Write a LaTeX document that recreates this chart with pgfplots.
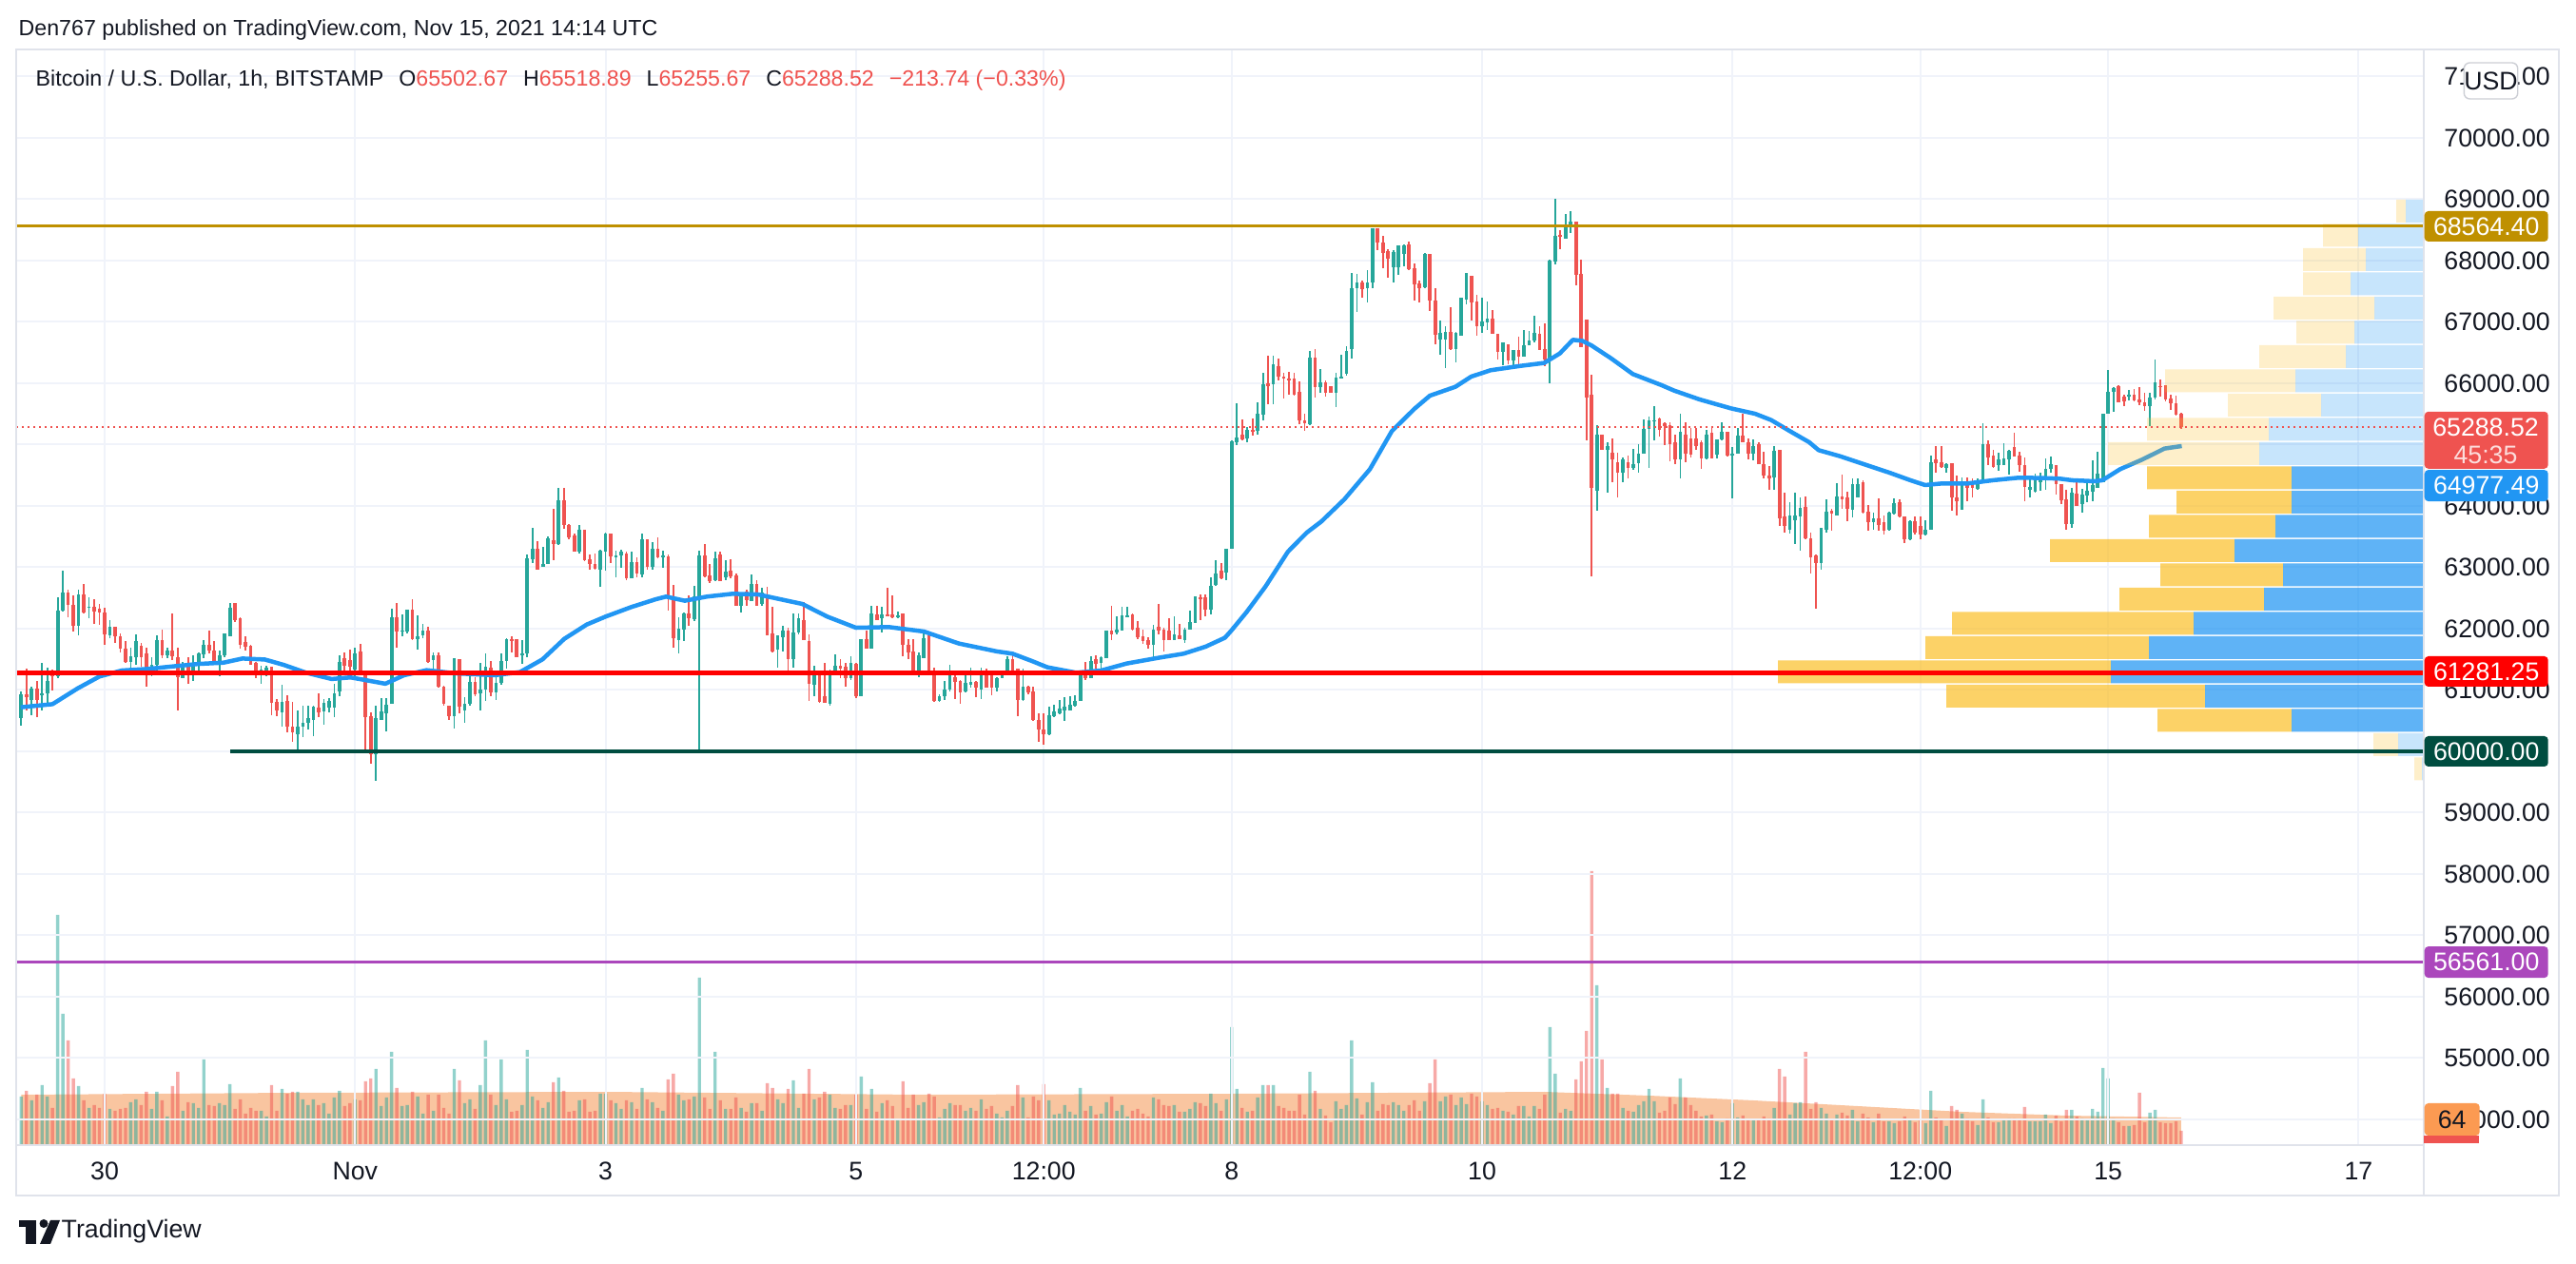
\documentclass[border=0pt]{standalone}
\usepackage{fontspec}
\setmainfont{Liberation Sans}
\usepackage{pgfplots}
\pgfplotsset{compat=1.18}
\usepackage{pgfplotstable}

\definecolor{upc}{HTML}{26A69A}
\definecolor{dnc}{HTML}{EF5350}
\definecolor{mac}{HTML}{2196F3}
\definecolor{gridc}{HTML}{F0F3FA}
\definecolor{borderc}{HTML}{E0E3EB}
\definecolor{txt}{HTML}{131722}
\definecolor{goldc}{HTML}{BF9000}
\definecolor{supc}{HTML}{004D40}
\definecolor{purc}{HTML}{AB47BC}
\definecolor{resc}{HTML}{FF0000}
\definecolor{vpy}{HTML}{FBC02D}
\definecolor{volma}{HTML}{F9C5A0}
\definecolor{volbox}{HTML}{FB9A52}

% hourly candles, t = hours since Oct 29 00:00 UTC, v = volume (px of the volume pane)
\pgfplotstableread{
t o h l c v
8 60538 60984 60420 60933 51
9 60933 61348 60666 60882 57
10 60846 61061 60589 61025 47
11 61025 61153 60564 60846 53
12 60912 61446 60666 60948 63
13 60948 61359 60795 61153 51
14 61282 61333 61000 61220 39
15 61230 62512 61189 62292 242
16 62292 62948 62282 62589 138
17 62589 62641 62194 62384 110
18 62384 62538 61959 62051 70
19 62051 62641 61897 62553 62
20 62553 62728 62256 62266 47
21 62343 62512 62174 62359 39
22 62359 62477 62077 62282 42
23 62323 62400 62061 62266 39
24 62266 62348 61743 61907 54
25 61897 62143 61846 62025 38
26 62025 62035 61769 61871 36
27 61882 61923 61615 61677 38
28 61682 61795 61446 61461 39
29 61461 61692 61256 61548 45
30 61538 61907 61410 61795 48
31 61718 61769 61384 61538 42
32 61600 61692 61061 61282 56
33 61282 61538 61230 61410 38
34 61410 61897 61256 61820 56
35 61820 61984 61513 61564 47
36 61564 61692 61513 61641 30
37 61641 62246 61487 61554 62
38 61538 61692 60666 61205 77
39 61189 61461 61189 61410 36
40 61384 61538 61102 61256 45
41 61256 61564 61143 61425 44
42 61425 61615 61282 61590 39
43 61590 61820 61513 61743 90
44 61743 61974 61590 61651 42
45 61651 61795 61436 61446 41
46 61446 61641 61220 61564 44
47 61564 61923 61538 61923 42
48 61882 62420 61882 62348 64
49 62420 62420 62102 62143 38
50 62179 62194 61682 61743 48
51 61784 61871 61641 61707 33
52 61718 61743 61410 61410 39
53 61436 61461 61189 61266 36
54 61266 61394 61102 61333 36
55 61282 61394 61230 61359 30
56 61384 61384 60589 60795 63
57 60810 60846 60574 60666 36
58 60641 61087 60400 60810 59
59 60820 60923 60307 60400 54
60 60400 60810 60154 60318 56
61 60272 60666 60036 60410 56
62 60400 60744 60231 60472 48
63 60461 60744 60359 60538 42
64 60513 60744 60246 60728 48
65 60718 60948 60564 60641 42
66 60656 60846 60436 60784 44
67 60708 60872 60641 60820 33
68 60718 61102 60564 60948 50
69 60974 61564 60897 61461 57
70 61513 61615 61256 61394 41
71 61487 61666 61256 61384 44
72 61333 61692 61179 61600 48
73 61631 61754 61282 61323 47
74 61323 61323 60026 60564 67
75 60574 60641 59795 59959 70
76 59949 60744 59513 60538 80
77 60513 60872 60513 60656 41
78 60615 60872 60333 60754 50
79 60769 62333 60769 62194 98
80 62194 62420 61692 61948 60
81 61959 62231 61871 61974 41
82 61959 62307 61923 62307 42
83 62307 62477 61820 61836 56
84 61836 62215 61666 61871 51
85 61897 62077 61846 61974 33
86 61974 62025 61436 61461 53
87 61487 61615 61333 61564 36
88 61564 61615 61036 61051 53
89 61051 61077 60744 60779 39
90 60744 60744 60513 60574 33
91 60568 61524 60372 61514 80
92 61498 61498 60620 60723 68
93 60672 60878 60465 60775 44
94 60775 61240 60749 61137 48
95 61137 61215 60904 60930 38
96 60940 61447 60672 61008 63
97 61008 61602 60816 61385 110
98 61370 61473 60894 60956 53
99 60956 61240 60837 61111 42
100 61111 61602 61085 61473 90
101 61473 61850 61354 61834 48
102 61824 61871 61612 61798 35
103 61824 61834 61540 61540 36
104 61576 61819 61421 61602 42
105 61602 63214 61540 63152 100
106 63126 63643 63075 63297 51
107 63297 63421 62956 62956 47
108 63003 63333 63003 63049 39
109 63049 63504 63049 63473 45
110 63437 63953 63111 63385 66
111 63385 64289 63359 64093 71
112 64093 64289 63628 63695 57
113 63695 63705 63452 63488 35
114 63514 63550 63256 63256 36
115 63256 63695 63230 63607 47
116 63607 63617 63101 63111 48
117 63126 63204 62956 63049 35
118 63059 63230 62956 62971 36
119 62956 63281 62677 63266 54
120 63256 63566 62946 63555 54
121 63555 63555 63075 63178 47
122 63163 63266 62842 63194 44
123 63194 63292 62987 63256 38
124 63230 63256 62791 62816 47
125 62816 63256 62816 63085 45
126 63085 63163 62842 62894 38
127 62884 63555 62832 63452 60
128 63452 63452 62956 63013 48
129 63003 63411 62956 63307 45
130 63307 63488 63152 63163 39
131 63163 63266 62987 63188 36
132 63178 63204 62300 62506 69
133 62532 62713 61695 61850 75
134 61809 62181 61592 62005 53
135 61990 62263 61798 62248 47
136 62248 62543 62041 62170 48
137 62160 62698 62129 62532 51
138 62506 63271 60026 63194 176
139 63194 63385 62842 62853 50
140 62868 63049 62749 62780 38
141 62790 63256 62780 63152 98
142 63204 63256 62780 62780 47
143 62842 63111 62790 62935 38
144 62946 63126 62816 62853 38
145 62868 62894 62367 62377 50
146 62367 62594 62258 62584 39
147 62610 62636 62377 62470 35
148 62455 62884 62455 62728 44
149 62728 62790 62367 62367 44
150 62403 62661 62377 62584 36
151 62532 62687 61886 61886 65
152 61922 62351 61618 61628 60
153 61654 61886 61369 61886 48
154 61860 62041 61628 61964 44
155 61964 62015 61318 61498 59
156 61498 62248 61369 61938 68
157 61938 62248 61912 62170 39
158 62145 62429 61809 61819 54
159 61798 61912 60827 61095 80
160 61085 61395 60904 61240 48
161 61292 61318 60785 60801 50
162 60904 61437 60785 60785 56
163 60775 61333 60744 61292 53
164 61250 61576 61250 61395 39
165 61395 61498 61189 61344 38
166 61385 61447 61059 61189 42
167 61189 61550 61163 61447 42
168 61421 61447 60868 60904 53
169 60894 61834 60894 61834 72
170 61834 61974 61679 61679 38
171 61679 62377 61679 62248 59
172 62238 62377 62134 62134 35
173 62171 62351 61938 62238 44
174 62238 62662 62196 62197 47
175 62238 62543 62171 62181 41
176 62197 62274 62171 62223 27
177 62248 62248 61551 61732 67
178 61732 61835 61499 61613 39
179 61628 61835 61241 61266 53
180 61266 61613 61215 61561 42
181 61525 61975 61525 61851 45
182 61887 61887 61266 61266 54
183 61292 61370 60801 60827 51
184 60827 60931 60801 60905 29
185 60905 61148 60838 61008 38
186 61008 61406 60982 61241 44
187 61215 61241 60853 61138 42
188 61148 61163 60776 60956 42
189 60982 61241 60956 61112 36
190 61086 61370 61034 61138 39
191 61138 61148 60879 61034 36
192 61008 61370 60853 61241 48
193 61266 61344 61034 61034 38
194 61241 61292 60920 61034 41
195 61034 61215 60982 61189 33
196 61189 61318 61189 61292 29
197 61282 61551 61266 61499 36
198 61499 61613 61241 61241 41
199 61344 61344 60569 60838 63
200 60838 61344 60817 61060 50
201 61060 61075 60931 60956 29
202 60972 61060 60491 60517 51
203 60517 60621 60155 60362 47
204 60362 60621 60114 60285 64
205 60285 60724 60259 60595 47
206 60569 60760 60559 60646 32
207 60621 60838 60610 60698 33
208 60672 60889 60491 60724 42
209 60672 60905 60662 60760 35
210 60750 60920 60734 60817 32
211 60817 61251 60817 61241 60
212 61241 61457 61163 61189 36
213 61199 61551 61199 61473 41
214 61509 61561 61354 61421 32
215 61437 61551 61318 61540 33
216 61525 61975 61525 61975 45
217 61975 62367 61809 61902 51
218 61939 62197 61913 61990 36
219 61975 62352 61964 62223 42
220 62197 62352 62181 62223 30
221 62233 62248 61975 61990 36
222 62016 62130 61835 61861 38
223 61871 61990 61758 61794 33
224 61809 61861 61680 61732 30
225 61732 62068 61525 61990 50
226 62026 62403 61913 61964 48
227 61990 62016 61628 61809 42
228 61964 62171 61809 61809 41
229 61820 62197 61809 61902 42
230 61887 62078 61835 61835 35
231 61809 62016 61768 61990 35
232 61990 62300 61990 62109 38
233 62093 62533 62093 62522 45
234 62507 62559 62145 62491 44
235 62507 62559 62197 62316 41
236 62316 62843 62233 62698 54
237 62714 63112 62698 62905 44
238 62946 63075 62801 62817 36
239 62920 63298 62791 63298 48
240 63298 65065 63298 65055 124
241 65040 65675 64987 65117 59
242 65158 65416 65075 65091 39
243 65106 65282 65039 65246 35
244 65246 65427 65142 65210 36
245 65230 65685 65158 65504 50
246 65489 66176 65401 65985 63
247 66000 66450 65659 65954 63
248 65985 66450 65659 66305 63
249 66280 66400 66047 66109 41
250 66109 66176 65747 66073 39
251 66073 66192 65814 66057 36
252 66073 66176 65799 65814 36
253 65866 66037 65334 65401 53
254 65401 65504 65220 65349 32
255 65338 66521 65323 66418 77
256 66418 66553 65762 65943 57
257 65933 66227 65840 66020 38
258 66020 66046 65788 65840 31
259 65953 65953 65840 65840 24
260 65840 66175 65607 66088 46
261 66072 66460 66072 66113 38
262 66160 66604 66124 66522 42
263 66553 67793 66408 67555 110
264 67545 67777 67157 67648 49
265 67648 67674 67400 67535 32
266 67545 67845 67312 67648 45
267 67638 68527 67555 68527 66
268 68527 68527 68176 68294 36
269 68294 68398 67881 68124 43
270 68155 68191 67726 68036 42
271 67896 68175 67638 68139 45
272 67896 68243 67762 68243 42
273 68113 68269 67907 68243 36
274 68258 68310 67845 67865 42
275 67881 67948 67348 67607 47
276 67622 67674 67312 67555 36
277 67571 68124 67555 68113 46
278 68113 68113 67173 67348 65
279 67348 67545 66640 66796 90
280 66708 67028 66460 66821 46
281 66708 66925 66253 66832 51
282 66832 67235 66537 66553 53
283 66553 66832 66346 66821 42
284 66780 67400 66770 67390 50
285 67364 67803 67287 67793 43
286 67752 67752 67028 67312 54
287 67328 67442 66770 66935 51
288 66925 67390 66821 67002 46
289 66987 67338 66873 67054 42
290 67054 67194 66811 66811 38
291 66811 66811 66382 66511 39
292 66511 66666 66294 66666 36
293 66640 66640 66315 66367 35
294 66367 66537 66253 66537 32
295 66537 66759 66305 66434 41
296 66434 66873 66434 66625 41
297 66625 66847 66615 66692 30
298 66692 67106 66666 66821 41
299 66811 66925 66537 66537 38
300 66553 66977 66279 66382 53
301 66382 68010 65995 67999 124
302 67984 69007 67933 68398 75
303 68424 68501 68191 68398 34
304 68362 68759 68362 68579 38
305 68579 68811 68449 68630 36
306 68630 68630 67597 67762 69
307 67777 68010 66589 66589 88
308 67039 67039 65075 65762 120
309 65814 66139 62852 64289 288
310 64248 65323 63927 65168 168
311 65168 65168 64909 64909 90
312 64909 65039 64211 64971 60
313 64868 65106 64392 64764 54
314 64713 64868 64134 64547 54
315 64547 64795 64382 64764 39
316 64713 64816 64444 64625 36
317 64625 64935 64589 64677 35
318 64703 65013 64547 64858 42
319 64858 65416 64847 65261 46
320 65261 65452 64625 65401 59
321 65385 65633 65065 65401 46
322 65426 65437 65127 65245 34
323 65349 65364 64987 65297 36
324 65313 65364 64728 65013 50
325 65039 65168 64677 64764 43
326 64764 65504 64444 65209 70
327 65168 65364 64713 64847 50
328 65106 65271 64796 64832 42
329 65106 65271 64909 64971 36
330 65039 65065 64610 64780 30
331 64780 65245 64764 65168 31
332 65194 65297 64780 64780 32
333 64832 65090 64780 65090 25
334 65090 65364 65075 65209 24
335 65209 65209 64806 64816 28
336 64816 64961 64124 64847 44
337 64847 65271 64847 65142 29
338 65142 65504 65039 65039 31
339 65039 65106 64754 64858 27
340 64858 65091 64744 64972 26
341 65013 65039 64677 64677 27
342 64677 64884 64445 64496 30
343 64496 64651 64264 64455 28
344 64471 64972 64264 64899 39
345 64910 64910 63680 63799 80
346 63825 64212 63566 63680 72
347 63618 64057 63556 63850 32
348 63773 64212 63385 63850 44
349 63835 64145 63266 63969 45
350 63990 64161 63463 63473 98
351 63473 63566 62905 63163 38
352 63194 63204 62326 63075 45
353 63075 63644 62956 63644 39
354 63618 64109 63566 63902 33
355 63918 63954 63592 63876 27
356 63850 64367 63850 64160 32
357 64160 64507 63954 64109 34
358 64135 64228 63747 63954 31
359 63938 64445 63814 64352 37
360 64145 64445 64135 64352 25
361 64393 64419 63876 63887 33
362 63902 64021 63592 63731 29
363 63731 63887 63618 63799 24
364 63799 64124 63592 63695 33
365 63731 63850 63540 63592 25
366 63618 63902 63592 63887 25
367 63876 64124 63866 64042 23
368 64057 64109 63814 63825 25
369 63835 63835 63401 63452 30
370 63452 63762 63437 63747 26
371 63747 63825 63540 63566 24
372 63670 63825 63452 63540 27
373 63540 63762 63515 63618 23
374 63608 64817 63608 64713 57
375 64755 64972 64548 64703 29
376 64713 64972 64626 64641 26
377 64626 64703 64538 64677 20
378 64693 64693 63928 64135 41
379 64135 64496 63850 64083 37
380 63938 64471 63938 64383 33
381 64403 64471 64073 64290 28
382 64393 64455 64145 64290 25
383 64279 64455 64264 64403 21
384 64393 65349 64393 65003 48
385 65013 65075 64662 64796 29
386 64817 64910 64626 64641 24
387 64662 64868 64574 64765 24
388 64662 65024 64662 64780 27
389 64765 64910 64507 64899 28
390 64961 65194 64806 64806 28
391 64817 64884 64558 64662 26
392 64662 64796 64073 64316 40
393 64264 64445 64135 64316 25
394 64238 64522 64212 64455 25
395 64393 64548 64248 64471 25
396 64455 64781 64264 64610 32
397 64610 64806 64548 64677 23
398 64662 64662 64186 64352 31
399 64352 64352 64031 64093 25
400 64109 64264 63608 63711 37
401 63711 64290 63644 64212 37
402 64197 64445 64005 64005 30
403 64031 64279 63887 64186 28
404 64176 64383 64057 64248 26
405 64238 64744 64073 64341 38
406 64300 64884 64300 64522 35
407 64393 65504 64393 65504 81
408 65504 66212 65504 65866 70
409 65866 65943 65540 65918 28
410 65954 65969 65695 65695 24
411 65778 65814 65633 65711 20
412 65778 65892 65726 65814 20
413 65814 65902 65711 65726 21
414 65737 65933 65644 65695 55
415 65695 65840 65556 65623 24
416 65623 65850 65297 65763 34
417 65763 66383 65737 66021 37
418 65954 66057 65788 65943 24
419 65969 65969 65711 65737 23
420 65747 65814 65571 65675 23
421 65675 65799 65478 65489 25
422 65502.67 65518.89 65255.67 65288.52 15
}\candles

% visible range volume profile, rows of about 395 USD
% bd/yd: value-area rows (dark), bp/yp: rows outside it (pale); lengths in px from the price scale
\pgfplotstableread{
p bd bp yd yp
68807.4 0 19 0 10
68412.1 0 69 0 37
68016.8 0 61 0 66
67621.5 0 77 0 50
67226.2 0 52 0 106
66830.9 0 73 0 61
66435.6 0 82 0 91
66040.3 0 135 0 137
65645.0 0 108 0 98
65249.7 0 163 0 128
64854.4 0 173 0 159
64459.1 139 0 152 0
64063.8 139 0 121 0
63668.5 156 0 133 0
63273.2 199 0 194 0
62877.9 148 0 129 0
62482.6 168 0 152 0
62087.3 242 0 254 0
61692.0 289 0 235 0
61296.7 329 0 350 0
60901.4 230 0 272 0
60506.1 139 0 141 0
60110.8 0 27 0 26
59715.5 0 2 0 8
}\vprofile

\newcommand{\tl}{\fontsize{7.6}{9}\selectfont}
\newcommand{\hd}{\fontsize{6.6}{8}\selectfont}
\pgfplotsset{pane/.style={at={(0,0)}, anchor=south west,
  width=253.1mm, height=115.2mm, scale only axis}}

\begin{document}
\begin{tikzpicture}
\path[use as bounding box] (-1.7mm,-12.4mm) rectangle (269.1mm,120.4mm);

% volume pane
\begin{axis}[pane, hide axis, xmin=7.04, xmax=468.5, ymin=0, ymax=1152]
\addplot[draw=none, fill=volma, forget plot] coordinates {
(8,53) (60,55) (120,56) (180,53) (240,54) (270,55) (300,56) (320,52) (340,47) (360,41) (380,35) (400,31) (422,29)
} \closedcycle;
\addplot[ybar, bar width=0.62, bar shift=0pt, draw=none, fill=upc, fill opacity=0.5,
  restrict expr to domain={\thisrow{c}-\thisrow{o}}{0:100000}] table[x=t, y=v] {\candles};
\addplot[ybar, bar width=0.62, bar shift=0pt, draw=none, fill=dnc, fill opacity=0.5,
  restrict expr to domain={\thisrow{c}-\thisrow{o}}{-100000:-0.001}] table[x=t, y=v] {\candles};
\end{axis}

% price pane
\begin{axis}[pane,
  xmin=7.04, xmax=468.5, ymin=53581, ymax=71442,
  axis line style={draw=none}, major tick length=0pt,
  xtick={24,72,120,168,204,240,288,336,372,408,456},
  xticklabels={30,Nov,3,5,12:00,8,10,12,12:00,15,17},
  ytick={54000,55000,...,71000},
  yticklabels={54000.00,55000.00,56000.00,57000.00,58000.00,59000.00,,61000.00,62000.00,63000.00,64000.00,,66000.00,67000.00,68000.00,69000.00,70000.00,71000.00},
  yticklabel pos=right,
  scaled y ticks=false,
  grid=major,
  major grid style={draw=gridc, line width=0.2mm},
  tick label style={font=\tl, text=txt},
  xticklabel style={anchor=center, yshift=-2.75mm},
  yticklabel style={anchor=west, xshift=0.9mm},
]
% wicks
\addplot[mark=none, draw=none, forget plot,
  restrict expr to domain={\thisrow{c}-\thisrow{o}}{0:100000},
  error bars/.cd, y dir=both, y explicit, error mark=none,
  error bar style={draw=upc, line width=0.17mm}]
  table[x=t, y expr={(\thisrow{h}+\thisrow{l})/2}, y error expr={(\thisrow{h}-\thisrow{l})/2}] {\candles};
\addplot[mark=none, draw=none, forget plot,
  restrict expr to domain={\thisrow{c}-\thisrow{o}}{-100000:-0.001},
  error bars/.cd, y dir=both, y explicit, error mark=none,
  error bar style={draw=dnc, line width=0.17mm}]
  table[x=t, y expr={(\thisrow{h}+\thisrow{l})/2}, y error expr={(\thisrow{h}-\thisrow{l})/2}] {\candles};
% bodies
\addplot[mark=none, draw=none, forget plot,
  restrict expr to domain={\thisrow{c}-\thisrow{o}}{0:100000},
  error bars/.cd, y dir=both, y explicit, error mark=none,
  error bar style={draw=upc, line width=0.37mm}]
  table[x=t, y expr={(\thisrow{o}+\thisrow{c})/2}, y error expr={max(abs(\thisrow{c}-\thisrow{o})/2,8)}] {\candles};
\addplot[mark=none, draw=none, forget plot,
  restrict expr to domain={\thisrow{c}-\thisrow{o}}{-100000:-0.001},
  error bars/.cd, y dir=both, y explicit, error mark=none,
  error bar style={draw=dnc, line width=0.37mm}]
  table[x=t, y expr={(\thisrow{o}+\thisrow{c})/2}, y error expr={max(abs(\thisrow{c}-\thisrow{o})/2,8)}] {\candles};

% moving average
\addplot[mac, line width=0.45mm, line join=round, forget plot] coordinates {
(7.9,60718) (14,60769) (18.8,61025) (23,61220) (27.3,61318) (32.2,61343) (37,61384)
(42,61425) (46.8,61446) (50.4,61513) (54.7,61497) (58.3,61410) (62.6,61282) (67.5,61179)
(71.1,61205) (73.5,61169) (77.8,61102) (81.4,61241) (85.7,61323) (91.2,61272) (98.7,61240)
(103.6,61292) (107.9,61498) (112.1,61834) (116.4,62067) (120,62196) (124.9,62351)
(129.7,62481) (131.6,62522) (135.2,62455) (139.4,62522) (144.3,62568) (149.2,62558)
(154,62470) (157.7,62403) (162.5,62196) (168,62015) (174.3,62026) (181,61954) (187.7,61758)
(195,61629) (198,61592) (201.7,61473) (204.7,61370) (210.2,61282) (215,61318) (219.9,61432)
(226,61525) (230.8,61592) (235,61706) (238.7,61851) (239.9,61964) (242.9,62274) (246.5,62688)
(250.8,63256) (254.4,63566) (257.2,63747) (261.6,64108) (266.5,64599) (270.7,65219)
(275,65581) (278,65798) (282.9,65943) (285.9,66108) (289.6,66212) (295,66279) (299.9,66331)
(302.9,66486) (305.4,66708) (307.2,66692) (309,66615) (312.7,66408) (316.9,66150)
(322.4,65969) (324.8,65881) (329.7,65736) (335.7,65591) (340.3,65504) (343.4,65401)
(347,65220) (350.7,65039) (352.5,64910) (356.8,64806) (360.4,64703) (365.9,64548)
(370.1,64419) (372.9,64341) (376.2,64367) (381.1,64367) (385.9,64419) (390.8,64460)
(395.7,64455) (398.7,64445) (401.1,64419) (405.4,64403) (406.9,64419) (410.3,64600)
(414.5,64755) (418.8,64936) (422.1,64977)
};
\end{axis}

% volume profile
\begin{axis}[pane, hide axis, x dir=reverse,
  xmin=0, xmax=2531, ymin=53581, ymax=71442,
  xbar stacked, bar width=372]
\addplot[draw=none, fill=mac, fill opacity=0.72] table[x=bd, y=p] {\vprofile};
\addplot[draw=none, fill=mac, fill opacity=0.25] table[x=bp, y=p] {\vprofile};
\addplot[draw=none, fill=vpy, fill opacity=0.72] table[x=yd, y=p] {\vprofile};
\addplot[draw=none, fill=vpy, fill opacity=0.25] table[x=yp, y=p] {\vprofile};
\end{axis}

% horizontal levels, drawn above the profile
\begin{axis}[pane, hide axis, xmin=7.04, xmax=468.5, ymin=53581, ymax=71442]
\addplot[dnc, line width=0.2mm, dash pattern=on 0.2mm off 0.4mm] coordinates {(7.04,65288.52) (468.5,65288.52)};
\addplot[purc, line width=0.27mm] coordinates {(7.04,56561) (468.5,56561)};
\addplot[goldc, line width=0.36mm] coordinates {(7.04,68564.4) (468.5,68564.4)};
\addplot[resc, line width=0.45mm] coordinates {(7.04,61281.25) (468.5,61281.25)};
\addplot[supc, line width=0.36mm] coordinates {(48.1,60000) (468.5,60000)};
\end{axis}

% frame
\draw[borderc, line width=0.2mm] (0,115.2mm) -- (267.3mm,115.2mm) -- (267.3mm,-5.3mm) -- (0,-5.3mm) -- cycle;
\draw[borderc, line width=0.25mm] (253.1mm,115.2mm) -- (253.1mm,-5.3mm);
\draw[borderc, line width=0.25mm] (0,0) -- (253.1mm,0);

% price labels
\tikzset{plab/.style={anchor=west, minimum width=13mm, minimum height=3.2mm, inner sep=0pt,
  rounded corners=0.4mm, text=white, font=\tl}}
\node[plab, fill=goldc] at (253.1mm,96.6mm) {68564.40};
\node[plab, fill=dnc, minimum height=6mm] at (253.1mm,74.12mm) {};
\node[font=\tl, text=white] at (259.6mm,75.45mm) {65288.52};
\node[font=\tl, text=white!80!dnc] at (259.6mm,72.6mm) {45:35};
\node[plab, fill=mac, minimum height=3.3mm] at (253.1mm,69.34mm) {64977.49};
\node[plab, fill=resc] at (253.1mm,49.8mm) {61281.25};
\node[plab, fill=supc] at (253.1mm,41.4mm) {60000.00};
\node[plab, fill=purc, minimum height=3.3mm] at (253.1mm,19.24mm) {56561.00};
\node[plab, fill=volbox, minimum width=5.8mm, minimum height=3.4mm, text=txt] at (253.1mm,2.7mm) {64};
\fill[dnc] (253.1mm,0.2mm) rectangle (258.9mm,1.0mm);
\node[draw=borderc!80!gray, fill=white, rounded corners=0.6mm, minimum width=5.3mm, minimum height=3.8mm,
  inner sep=0pt, font=\tl, text=txt] at (260.15mm,111.9mm) {USD};

% header
\node[anchor=west, font=\hd, text=txt, inner sep=0pt] at (0.2mm,117.2mm)
  {Den767 published on TradingView.com, Nov 15, 2021 14:14 UTC};
\node[anchor=west, font=\hd, text=txt, inner sep=0pt] at (2.0mm,111.9mm)
  {Bitcoin / U.S. Dollar, 1h, BITSTAMP\hspace{1.6mm}O\textcolor{dnc}{65502.67}\hspace{1.6mm}H\textcolor{dnc}{65518.89}\hspace{1.6mm}L\textcolor{dnc}{65255.67}\hspace{1.6mm}C\textcolor{dnc}{65288.52}\hspace{1.6mm}\textcolor{dnc}{−213.74 (−0.33\%)}};

% footer logo
\fill[txt] (0.3mm,-7.9mm) rectangle (2.1mm,-8.6mm);
\fill[txt] (1.0mm,-8.6mm) rectangle (2.1mm,-10.4mm);
\fill[txt] (2.9mm,-8.25mm) circle (0.45mm);
\fill[txt] (3.6mm,-7.9mm) -- (4.6mm,-7.9mm) -- (3.6mm,-10.4mm) -- (2.5mm,-10.4mm) -- cycle;
\node[anchor=west, font=\fontsize{7.6}{9}\selectfont, text=txt, inner sep=0pt] at (4.7mm,-9.1mm) {TradingView};
\end{tikzpicture}
\end{document}
